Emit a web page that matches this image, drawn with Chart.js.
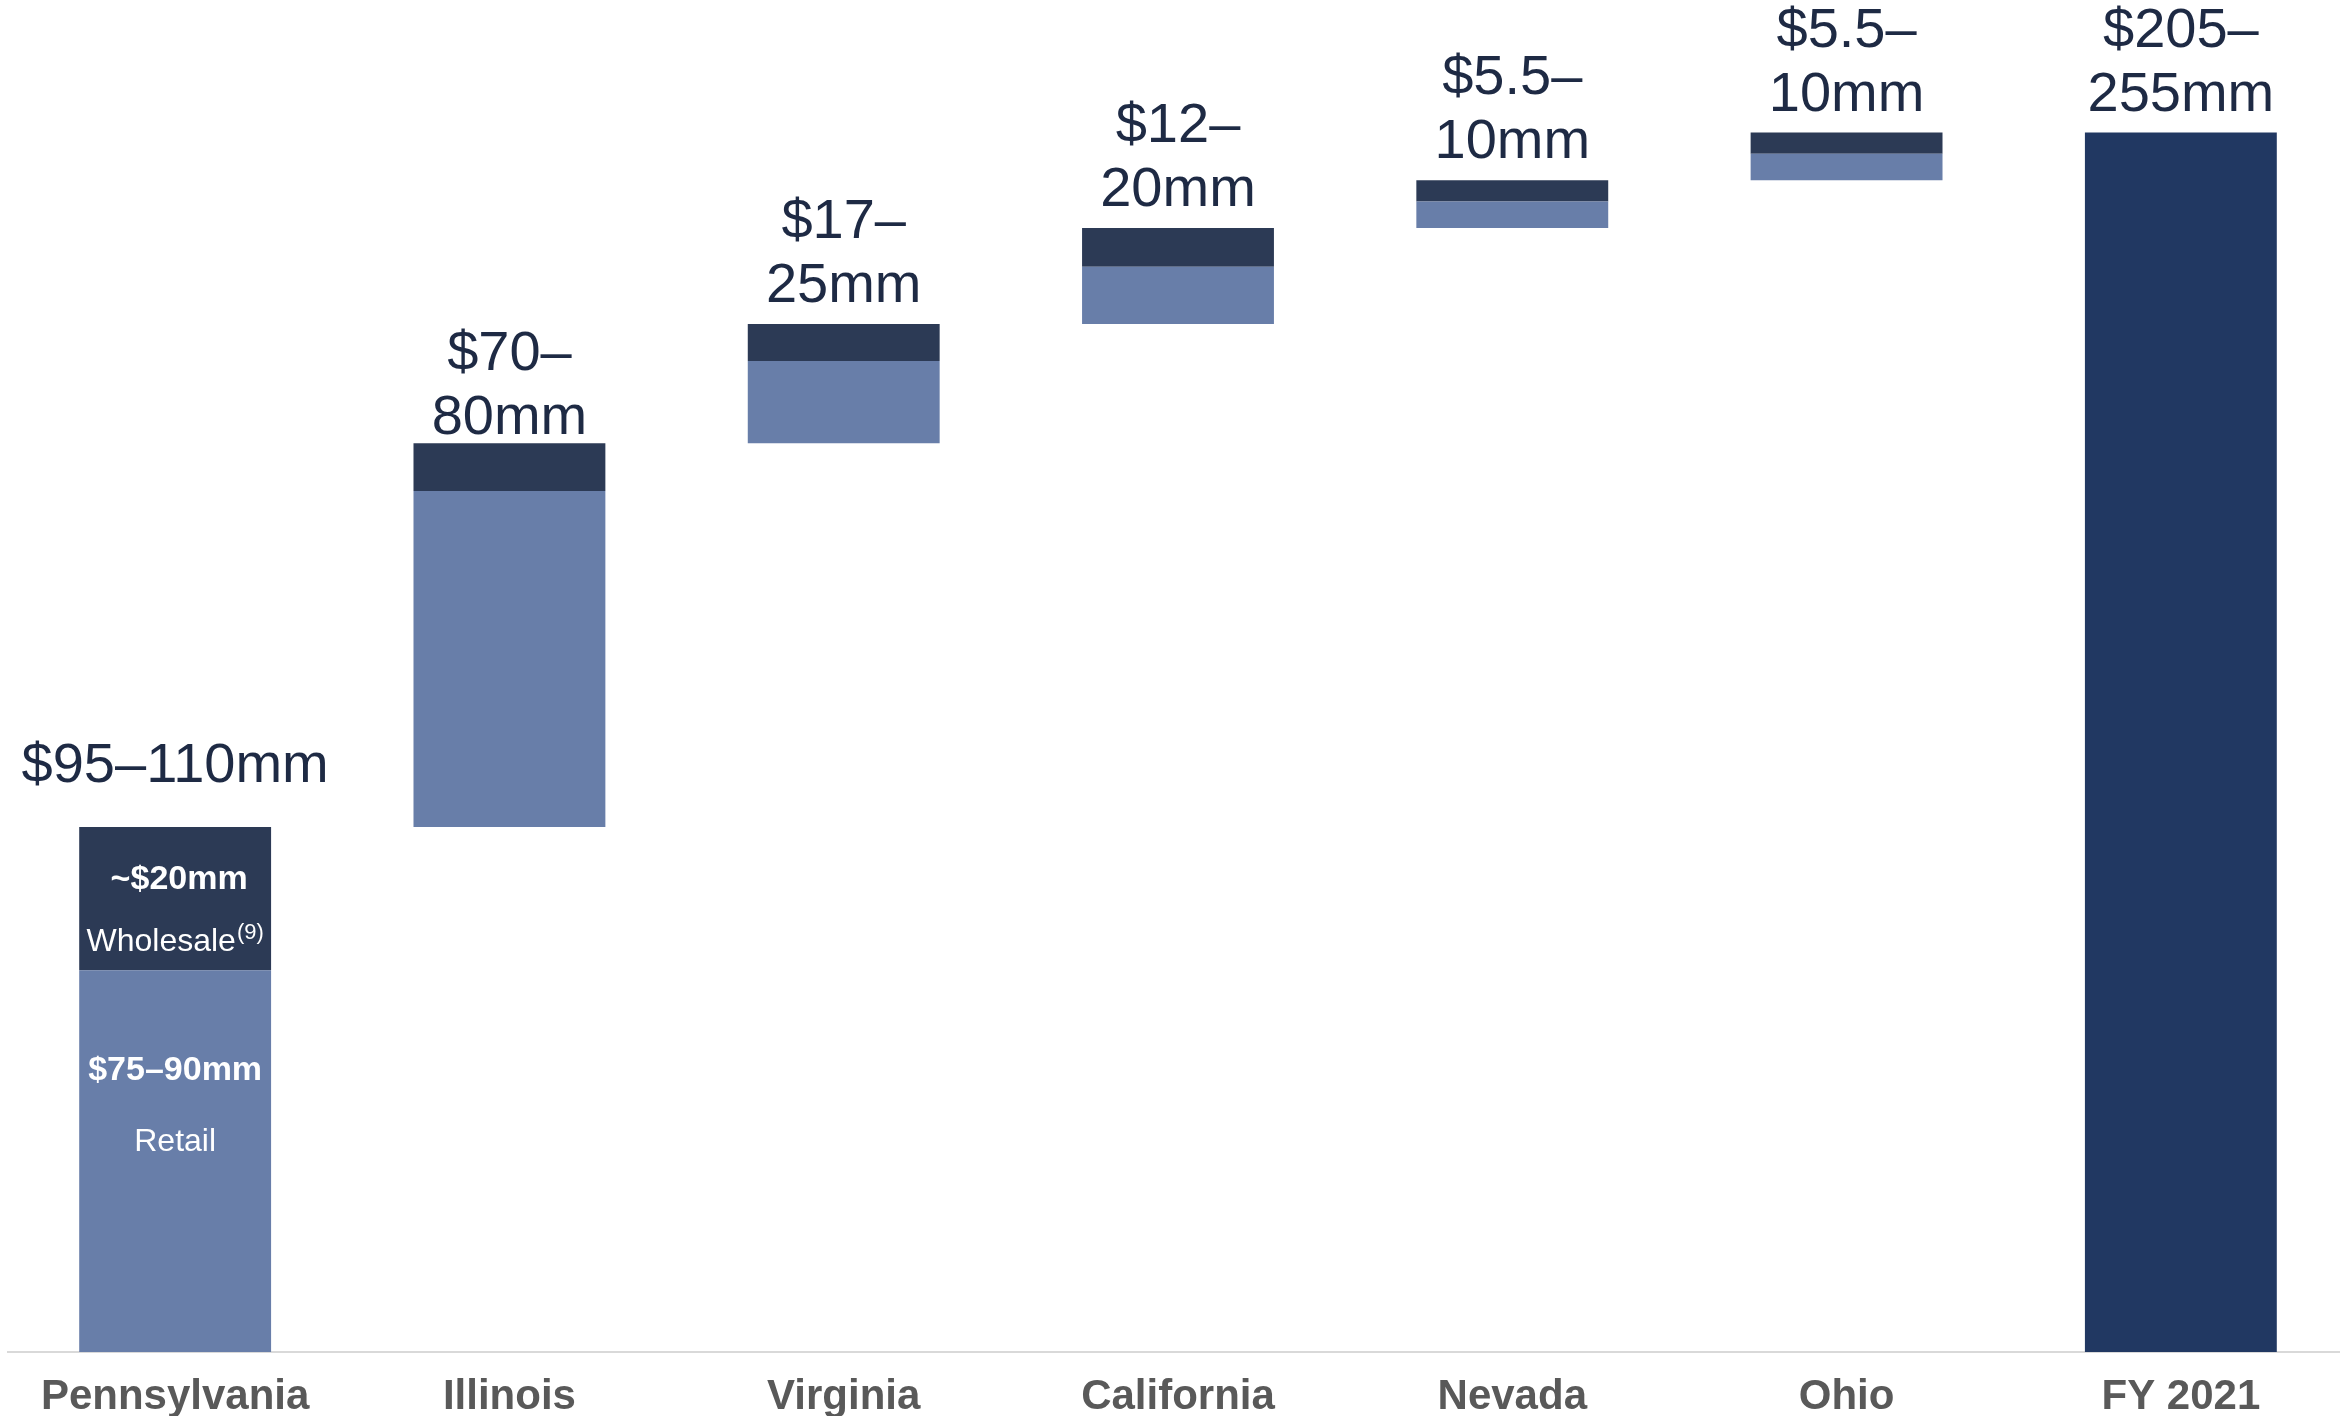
<!DOCTYPE html>
<html>
<head>
<meta charset="utf-8">
<script src="https://cdn.jsdelivr.net/npm/chart.js@4"></script>
<style>
html, body { margin: 0; padding: 0; background: #fff; overflow: hidden; }
</style>
</head>
<body>
<canvas id="chartCanvas" width="2348" height="1416"></canvas>
<script>
// categories along the bottom
const categories = ['Pennsylvania', 'Illinois', 'Virginia', 'California', 'Nevada', 'Ohio', 'FY 2021'];
// lower (light) block of each state step, $mm
const retailValues = [72, 63.4, 15.5, 10.8, 5, 5];
// upper (dark) block of each state step, $mm
const wholesaleValues = [27, 9, 7, 7.3, 4, 4];
// full year total bar, $mm
const totalValue = 230;
// range labels over each bar (one entry per line)
const rangeLabels = [
    ['$95–110mm'],
    ['$70–', '80mm'],
    ['$17–', '25mm'],
    ['$12–', '20mm'],
    ['$5.5–', '10mm'],
    ['$5.5–', '10mm'],
    ['$205–', '255mm']
];
// gap between bar top and label baseline
const labelGaps = [45, 9, 22, 22, 22, 22, 22];

const FONT = '"Liberation Sans", Arial, sans-serif';

//Build the floating ranges for the waterfall
let running = 0;
const retailRanges = [];
const wholesaleRanges = [];
const totalRanges = [];
categories.forEach((c, i) => {
    if (i < retailValues.length) {
        retailRanges.push([running, running + retailValues[i]]);
        running += retailValues[i];
        wholesaleRanges.push([running, running + wholesaleValues[i]]);
        running += wholesaleValues[i];
        totalRanges.push(null);
    } else {
        retailRanges.push(null);
        wholesaleRanges.push(null);
        totalRanges.push([0, totalValue]);
    }
});

//Draws the range labels and the text inside the Pennsylvania bar
const labelPlugin = {
    id: 'rangeLabels',
    afterDatasetsDraw(chart) {
        const ctx = chart.ctx;
        ctx.save();
        ctx.textAlign = 'center';
        ctx.textBaseline = 'alphabetic';
        ctx.fillStyle = '#1e2a44';
        ctx.font = '56px ' + FONT;
        categories.forEach((c, i) => {
            const dsIndex = i < wholesaleValues.length ? 1 : 2;
            const bar = chart.getDatasetMeta(dsIndex).data[i];
            const lines = rangeLabels[i];
            let y = bar.y - labelGaps[i];
            for (let k = lines.length - 1; k >= 0; k--) {
                ctx.fillText(lines[k], bar.x, y);
                y -= 64;
            }
        });

        const retailBar = chart.getDatasetMeta(0).data[0];
        const wholesaleBar = chart.getDatasetMeta(1).data[0];
        const x = retailBar.x;
        ctx.fillStyle = '#ffffff';
        ctx.textBaseline = 'middle';

        ctx.font = 'bold 34px ' + FONT;
        ctx.fillText('~$20mm', x + 4, wholesaleBar.y + 53);

        // "Wholesale" with a small superscript note
        ctx.font = '32px ' + FONT;
        const w1 = ctx.measureText('Wholesale').width;
        ctx.font = '22px ' + FONT;
        const w2 = ctx.measureText('(9)').width;
        const startX = x - (w1 + w2 + 1) / 2;
        ctx.textAlign = 'left';
        ctx.font = '32px ' + FONT;
        ctx.fillText('Wholesale', startX, wholesaleBar.y + 115);
        ctx.font = '22px ' + FONT;
        ctx.fillText('(9)', startX + w1 + 1, wholesaleBar.y + 106);

        ctx.textAlign = 'center';
        ctx.font = 'bold 34px ' + FONT;
        ctx.fillText('$75–90mm', x, retailBar.y + 100);
        ctx.font = '32px ' + FONT;
        ctx.fillText('Retail', x, retailBar.y + 172);
        ctx.restore();
    }
};

const ctx = document.getElementById('chartCanvas');
window.myChart = new Chart(ctx, {
    type: 'bar',
    data: {
        labels: categories,
        datasets: [{
            label: 'Retail',
            data: retailRanges,
            backgroundColor: '#687ea9',
            grouped: false
        }, {
            label: 'Wholesale',
            data: wholesaleRanges,
            backgroundColor: '#2c3a55',
            grouped: false
        }, {
            label: 'Total',
            data: totalRanges,
            backgroundColor: '#213862',
            grouped: false
        }]
    },
    options: {
        responsive: false,
        animation: false,
        categoryPercentage: 1,
        barPercentage: 0.574,
        layout: { padding: { left: 8, right: 0, top: 0, bottom: 0 } },
        plugins: {
            legend: { display: false },
            tooltip: { enabled: false }
        },
        scales: {
            x: {
                grid: { display: false, drawTicks: false },
                border: { display: true, color: '#d9d9d9', width: 2 },
                ticks: {
                    color: '#595959',
                    padding: 20,
                    maxRotation: 0,
                    autoSkip: false,
                    font: { family: FONT, size: 42, weight: 'bold', lineHeight: 1.2 }
                },
                afterFit(scale) { scale.height = 64; }
            },
            y: {
                display: false,
                min: 0,
                max: 255
            }
        }
    },
    plugins: [labelPlugin]
});
</script>
</body>
</html>
